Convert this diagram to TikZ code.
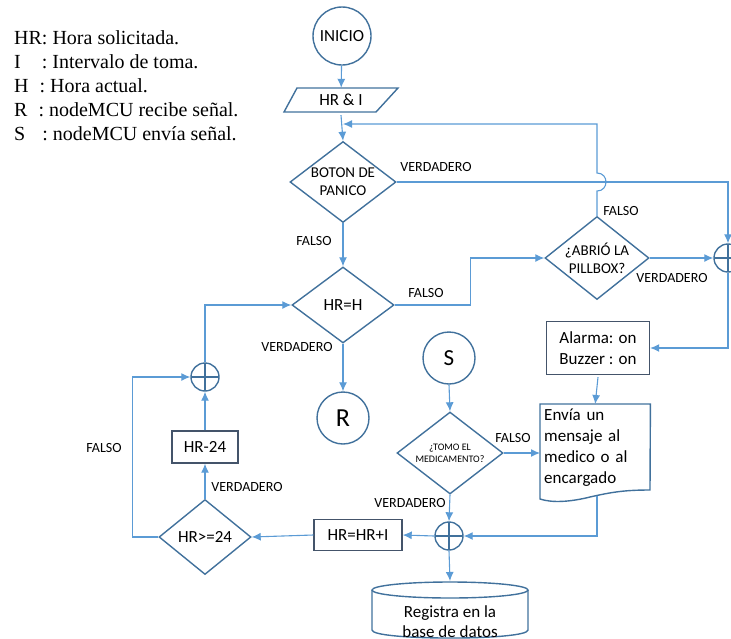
\documentclass[tikz,border=0pt]{standalone}
\usepackage{fontspec}
\setmainfont{Liberation Serif}
\newfontfamily\flowfont{Carlito}
\usetikzlibrary{arrows,arrows.meta,shapes.geometric,positioning}
\definecolor{linea}{HTML}{5B9BD5}
\definecolor{borde}{HTML}{41719C}
\definecolor{caja}{HTML}{44546A}

\begin{document}
\begin{tikzpicture}[x=1pt,y=-1pt]
  \tikzset{
    >={Latex[length=9pt,width=8pt]},
    flow/.style={->, color=linea, line width=1.1pt},
    terminal/.style={circle, draw=borde, line width=1.4pt, inner sep=0pt,
          minimum size=52pt, font=\flowfont\fontsize{24}{28}\selectfont},
    decision/.style={diamond, draw=borde, line width=1.4pt, inner sep=0pt,
          aspect=1.3, align=center, font=\flowfont\fontsize{15}{18}\selectfont},
    proceso/.style={rectangle, draw=caja, line width=1.4pt, inner sep=2pt,
          font=\flowfont\fontsize{17}{21}\selectfont},
    suma/.style={circle, draw=borde, line width=1.4pt, minimum size=28pt,
          inner sep=0pt, path picture={
            \draw[borde, line width=1.2pt]
              (path picture bounding box.north) -- (path picture bounding box.south)
              (path picture bounding box.west) -- (path picture bounding box.east);}},
    etiqueta/.style={inner sep=0pt, font=\flowfont\fontsize{14}{16}\selectfont},
    forma/.style={draw=borde, line width=1.4pt}
  }
  \useasboundingbox (0,0) rectangle (731,638);

  % leyenda
  \node[anchor=north west, inner sep=0pt, align=left,
        font=\fontsize{20}{24}\selectfont] (leyenda) at (14,30.5)
    {HR: Hora solicitada.\\
     I\hspace{21pt}: Intervalo de toma.\\
     H\hspace{11pt}: Hora actual.\\
     R\hspace{11pt}: nodeMCU recibe señal.\\
     S\hspace{17pt}: nodeMCU envía señal.};

  \node[terminal, minimum size=58pt, font=\flowfont\fontsize{17}{20}\selectfont]
    (inicio) at (342,36) {INICIO};
  \node[inner sep=0pt, minimum height=24pt, font=\flowfont\fontsize{17}{20}\selectfont]
    (hri) at (341,100) {HR \& I};
  \draw[forma] (284,112) -- (297,88) -- (398,88) -- (376,112) -- cycle;

  \node[decision, minimum width=106pt, minimum height=81pt] (boton) at (343,182)
    {BOTON DE\\PANICO};
  \node[decision, minimum width=102pt, minimum height=76pt,
        font=\flowfont\fontsize{17}{20}\selectfont] (hrh) at (343,305) {HR=H};
  \node[decision, minimum width=104pt, minimum height=83pt] (abrio) at (597,258)
    {¿ABRIÓ LA\\PILLBOX?};
  \node[suma] (sumd) at (728,258) {};
  \node[proceso, minimum width=103pt, minimum height=53pt, align=left]
    (alarma) at (598,348) {Alarma: on\\Buzzer : on};

  \node[inner xsep=4pt, inner ysep=0pt, anchor=north west, minimum width=110pt,
        minimum height=86pt, text width=102pt, align=left,
        font=\flowfont\fontsize{17}{21}\selectfont] (envia) at (540,404)
    {Envía un mensaje al medico o al encargado};
  \draw[forma] (envia.north west) -- (envia.north east) -- (650,490)
    .. controls (625,490) and (612,492) .. (590,497)
    .. controls (570,502) and (552,503) .. (540,499) -- cycle;
  \coordinate (envfin) at (597,496);

  \node[terminal, font=\flowfont\fontsize{23}{27}\selectfont] (s) at (449,358) {S};
  \node[decision, minimum width=106pt, minimum height=82pt,
        font=\flowfont\fontsize{10}{12}\selectfont] (tomo) at (450,453)
    {¿TOMO EL\\MEDICAMENTO?};
  \node[suma] (sumb) at (449,536) {};
  \node[proceso, minimum width=88pt, minimum height=31pt] (hrhri) at (358,535) {HR=HR+I};
  \node[decision, minimum width=92pt, minimum height=75pt,
        font=\flowfont\fontsize{17}{20}\selectfont] (hrge) at (205,537) {HR>=24};
  \node[proceso, minimum width=66pt, minimum height=32pt] (hrm) at (205,447) {HR-24};
  \node[suma] (suml) at (205,377) {};
  \node[terminal, font=\flowfont\fontsize{26}{30}\selectfont] (r) at (343,418) {R};

  % base de datos
  \draw[forma] (450,590) ellipse [x radius=78, y radius=8];
  \draw[forma] (372,590) -- (372,630) .. controls (372,640.7) and (528,640.7) .. (528,630)
    -- (528,590);
  \node[align=center, font=\flowfont\fontsize{17}{20}\selectfont] (dbtxt) at (450,622)
    {Registra en la\\base de datos};
  \coordinate (db) at (450,581);

  \coordinate (retorno) at (343,124);

  \draw[flow] (inicio) -- (hri);
  \draw[flow] ([yshift=-3pt]hri.south) -- (boton.north);
  \draw[flow] (abrio.north) -- (597,191) .. controls (609,191) and (609,173) .. (597,173)
    -- (abrio.north |- retorno) -- (retorno);
  \draw[flow] (boton.east) -| (sumd.north);
  \draw[flow] (abrio.east) -- (sumd.west);
  \draw[flow] (sumd.south) |- (alarma.east);
  \draw[flow] (boton.south) -- (hrh.north);
  \draw[flow] (hrh.east) -- ++(76,0) |- (abrio.west);
  \draw[flow] (hrh.south) -- (r.north);
  \draw[flow] ([yshift=-2pt]alarma.south) -- (envia.north);
  \draw[flow] (s.south) -- (tomo.north);
  \draw[flow] (tomo.east) -- (tomo.east -| envia.west);
  \draw[flow] (tomo.south) -- (sumb.north);
  \draw[flow] (envfin) |- (sumb.east);
  \draw[flow] (sumb.west) -- (hrhri.east);
  \draw[flow] (sumb.south) -- (db);
  \draw[flow] (hrhri.west) -- (hrge.east);
  \draw[flow] (hrge.north) -- (hrm.south);
  \draw[flow] (hrm.north) -- (suml.south);
  \draw[flow] (hrge.west) -- ++(-26,0) |- (suml.west);
  \draw[flow] (suml.north) |- (hrh.west);

  \node[etiqueta] (v1) at (436,167) {VERDADERO};
  \node[etiqueta] (f1) at (314,241) {FALSO};
  \node[etiqueta] (f2) at (426,293) {FALSO};
  \node[etiqueta] (f3) at (621,211) {FALSO};
  \node[etiqueta] (v2) at (672,278) {VERDADERO};
  \node[etiqueta] (v3) at (297,347) {VERDADERO};
  \node[etiqueta] (f4) at (513,438) {FALSO};
  \node[etiqueta] (v4) at (410,503) {VERDADERO};
  \node[etiqueta] (v5) at (247,487) {VERDADERO};
  \node[etiqueta] (f5) at (104,448) {FALSO};
\end{tikzpicture}
\end{document}
